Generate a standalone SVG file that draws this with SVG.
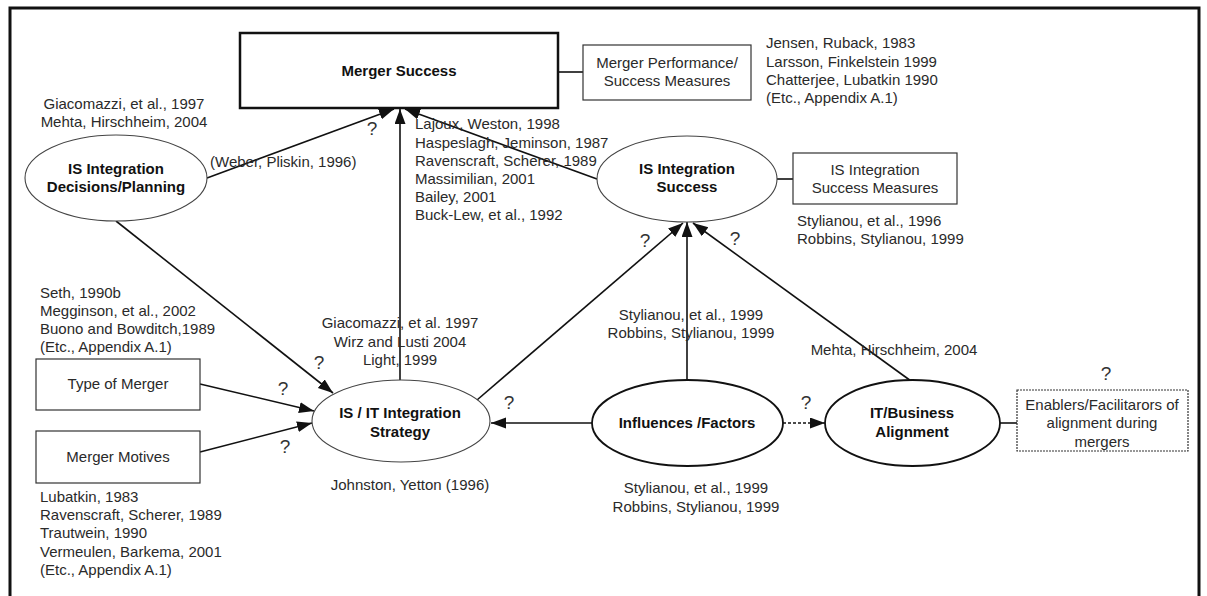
<svg xmlns="http://www.w3.org/2000/svg" width="1207" height="596" viewBox="0 0 1207 596">
<defs>
<marker id="ah" markerUnits="userSpaceOnUse" markerWidth="16" markerHeight="12" refX="15" refY="5.5" orient="auto">
<path d="M0,0 L15,5.5 L0,11 z" fill="#111"/>
</marker>
<style>
.t{font-family:"Liberation Sans",Arial,sans-serif;font-size:15px;fill:#2a2a2a}
.c{text-anchor:middle}
.b{font-family:"Liberation Sans",Arial,sans-serif;font-size:15px;font-weight:bold;fill:#111;text-anchor:middle}
.q{font-family:"Liberation Sans",Arial,sans-serif;font-size:19px;fill:#333;text-anchor:middle}
.e1{fill:#fff;stroke:#444;stroke-width:1.1}
.e2{fill:#fff;stroke:#111;stroke-width:1.8}
.bx{fill:#fff;stroke:#333;stroke-width:1.2}
.ln{fill:none;stroke:#111;stroke-width:1.6}
.ar{fill:none;stroke:#111;stroke-width:1.6;marker-end:url(#ah)}
</style>
</defs>
<rect x="0" y="0" width="1207" height="596" fill="#fff"/>
<rect x="10" y="8" width="1189" height="600" fill="none" stroke="#111" stroke-width="3"/>

<g id="connectors">
<line class="ar" x1="207" y1="178" x2="394" y2="109"/>
<line class="ar" x1="400" y1="380" x2="400" y2="109"/>
<line class="ar" x1="597" y1="179" x2="405" y2="109"/>
<line class="ar" x1="116" y1="221" x2="333" y2="393"/>
<line class="ar" x1="200" y1="384" x2="314" y2="411"/>
<line class="ar" x1="200" y1="452" x2="312" y2="423"/>
<line class="ar" x1="477" y1="400" x2="683" y2="223"/>
<line class="ar" x1="687" y1="380" x2="687" y2="222"/>
<line class="ar" x1="911" y1="381" x2="693" y2="223"/>
<line class="ar" x1="592" y1="423" x2="491" y2="423"/>
<line class="ar" x1="783" y1="423" x2="825" y2="423" stroke-dasharray="3,2"/>
<line class="ln" x1="558" y1="72" x2="583" y2="72"/>
<line class="ln" x1="777" y1="179" x2="793" y2="179"/>
<line class="ln" x1="1000" y1="423" x2="1017" y2="423"/>
</g>

<g id="merger-success">
<rect x="240" y="33" width="318" height="75" fill="#fff" stroke="#111" stroke-width="2.5"/>
<text class="b" x="399" y="76">Merger Success</text>
</g>
<g id="merger-performance">
<rect class="bx" x="583" y="45" width="168" height="55"/>
<text class="t c" x="667" y="68">Merger Performance/</text>
<text class="t c" x="667" y="86">Success Measures</text>
</g>
<g id="refs-performance">
<text class="t" x="766" y="48">Jensen, Ruback, 1983</text>
<text class="t" x="766" y="67">Larsson, Finkelstein 1999</text>
<text class="t" x="766" y="85">Chatterjee, Lubatkin 1990</text>
<text class="t" x="766" y="103">(Etc., Appendix A.1)</text>
</g>
<g id="refs-decisions">
<text class="t c" x="124" y="109">Giacomazzi, et al., 1997</text>
<text class="t c" x="124" y="127">Mehta, Hirschheim, 2004</text>
</g>
<g id="is-decisions">
<ellipse class="e1" cx="116" cy="178" rx="91" ry="43"/>
<text class="b" x="116" y="174">IS Integration</text>
<text class="b" x="116" y="192">Decisions/Planning</text>
</g>
<g id="refs-weber">
<text class="t" x="210" y="167">(Weber, Pliskin, 1996)</text>
</g>
<g id="refs-merger">
<text class="t" x="415" y="129">Lajoux, Weston, 1998</text>
<text class="t" x="415" y="148">Haspeslagh, Jeminson, 1987</text>
<text class="t" x="415" y="166">Ravenscraft, Scherer, 1989</text>
<text class="t" x="415" y="184">Massimilian, 2001</text>
<text class="t" x="415" y="202">Bailey, 2001</text>
<text class="t" x="415" y="220">Buck-Lew, et al., 1992</text>
</g>
<g id="is-success">
<ellipse class="e1" cx="687" cy="179" rx="90" ry="43"/>
<text class="b" x="687" y="174">IS Integration</text>
<text class="b" x="687" y="192">Success</text>
</g>
<g id="is-success-measures">
<rect class="bx" x="793" y="153" width="164" height="51"/>
<text class="t c" x="875" y="175">IS Integration</text>
<text class="t c" x="875" y="193">Success Measures</text>
</g>
<g id="refs-measures">
<text class="t" x="797" y="226">Stylianou, et al., 1996</text>
<text class="t" x="797" y="244">Robbins, Stylianou, 1999</text>
</g>
<g id="refs-influences-success">
<text class="t c" x="691" y="320">Stylianou, et al., 1999</text>
<text class="t c" x="691" y="338">Robbins, Stylianou, 1999</text>
</g>
<g id="refs-alignment-success">
<text class="t c" x="894" y="355">Mehta, Hirschheim, 2004</text>
</g>
<g id="refs-type">
<text class="t" x="40" y="298">Seth, 1990b</text>
<text class="t" x="40" y="316">Megginson, et al., 2002</text>
<text class="t" x="40" y="334">Buono and Bowditch,1989</text>
<text class="t" x="40" y="352">(Etc., Appendix A.1)</text>
</g>
<g id="refs-strategy-merger">
<text class="t c" x="400" y="328">Giacomazzi, et al. 1997</text>
<text class="t c" x="400" y="347">Wirz and Lusti 2004</text>
<text class="t c" x="400" y="365">Light, 1999</text>
</g>
<g id="type-of-merger">
<rect class="bx" x="36" y="359" width="164" height="51"/>
<text class="t c" x="118" y="389">Type of Merger</text>
</g>
<g id="merger-motives">
<rect class="bx" x="36" y="431" width="164" height="52"/>
<text class="t c" x="118" y="462">Merger Motives</text>
</g>
<g id="refs-motives">
<text class="t" x="40" y="502">Lubatkin, 1983</text>
<text class="t" x="40" y="520">Ravenscraft, Scherer, 1989</text>
<text class="t" x="40" y="538">Trautwein, 1990</text>
<text class="t" x="40" y="557">Vermeulen, Barkema, 2001</text>
<text class="t" x="40" y="575">(Etc., Appendix A.1)</text>
</g>
<g id="is-it-strategy">
<ellipse class="e1" cx="401" cy="421" rx="89" ry="41"/>
<text class="b" x="400" y="418">IS / IT Integration</text>
<text class="b" x="400" y="437">Strategy</text>
</g>
<g id="refs-strategy">
<text class="t c" x="410" y="490">Johnston, Yetton (1996)</text>
</g>
<g id="influences">
<ellipse class="e2" cx="687.5" cy="423" rx="95.5" ry="43"/>
<text class="b" x="687" y="428">Influences /Factors</text>
</g>
<g id="refs-influences">
<text class="t c" x="696" y="493">Stylianou, et al., 1999</text>
<text class="t c" x="696" y="512">Robbins, Stylianou, 1999</text>
</g>
<g id="it-business">
<ellipse class="e2" cx="912.5" cy="423" rx="87.5" ry="43"/>
<text class="b" x="912" y="418">IT/Business</text>
<text class="b" x="912" y="437">Alignment</text>
</g>
<g id="enablers">
<rect class="bx" x="1017" y="390" width="171" height="61" stroke-dasharray="2,1"/>
<text class="t c" x="1102" y="410">Enablers/Facilitarors of</text>
<text class="t c" x="1102" y="428">alignment during</text>
<text class="t c" x="1102" y="447">mergers</text>
</g>
<g id="question-marks">
<text class="q" x="372" y="135">?</text>
<text class="q" x="319" y="369">?</text>
<text class="q" x="283" y="395">?</text>
<text class="q" x="285" y="453">?</text>
<text class="q" x="509" y="409">?</text>
<text class="q" x="645" y="247">?</text>
<text class="q" x="735" y="245">?</text>
<text class="q" x="806" y="409">?</text>
<text class="q" x="1106" y="380">?</text>
</g>
</svg>
